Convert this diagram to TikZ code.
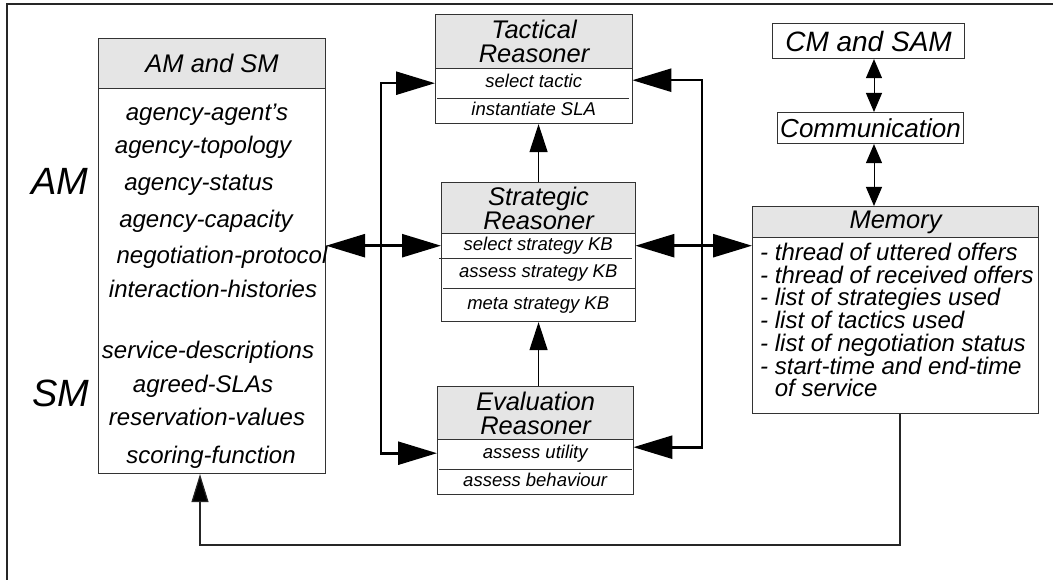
\documentclass[tikz,border=0pt]{standalone}
\usepackage{fontspec}
\setmainfont{Liberation Sans}
\usetikzlibrary{arrows.meta}

\newcommand\hdfont{\fontsize{25.5}{24}\selectfont\itshape}
\newcommand\rowfont{\fontsize{18.5}{20}\selectfont\itshape}
\newcommand\itemfont{\fontsize{24}{23}\selectfont\itshape}

\begin{document}
\begin{tikzpicture}[x=1pt,y=-1pt,
  box/.style={draw=black!80, line width=1.1pt, inner sep=0pt, anchor=north west},
  head/.style={box, fill=black!10, align=center, font=\hdfont},
  cell/.style={inner sep=0pt, anchor=north west, font=\rowfont,
    text height=13pt, text depth=4pt},
  item/.style={inner sep=0pt, font=\itemfont, text height=17pt, text depth=5pt},
  memitem/.style={inner sep=0pt, anchor=base west, font=\itemfont},
  divider/.style={draw=black!80, line width=1pt},
  bus/.style={line width=2.6pt, >={Triangle[length=39pt,width=23pt]}},
  thinarr/.style={line width=1.1pt, >={Triangle[length=28pt,width=18pt]}},
  commarr/.style={line width=1pt, >={Triangle[length=19pt,width=16pt]}},
  retarr/.style={draw=black!85, line width=1.2pt, >={Triangle[length=28pt,width=17pt,fill=black]}}]

\useasboundingbox (0,0) rectangle (1053,580);

% frame
\draw[line width=2pt, black!85] (6.5,580) -- (6.5,4.5) -- (1053,4.5);

% ---------- AM and SM ----------
\node[box, minimum width=227pt, minimum height=385pt] (amb) at (98,88) {};
\node[head, minimum width=227pt, minimum height=50pt] (amh) at (98,38) {AM and SM};
\foreach \t/\x/\y [count=\i] in {
  agency-agent's/207/115, agency-topology/203/148, agency-status/199/185,
  agency-capacity/206/222, negotiation-protocol/222/258,
  interaction-histories/213/292, service-descriptions/208/353,
  agreed-SLAs/203/386, reservation-values/207/419, scoring-function/211/457}
  \node[item] (am\i) at (\x,\y) {\t};
\node[item, font=\fontsize{38}{38}\selectfont\itshape, text height=27pt, text depth=1pt] (amlab) at (60,182) {AM};
\node[item, font=\fontsize{38}{38}\selectfont\itshape, text height=27pt, text depth=1pt] (smlab) at (61,393) {SM};

% ---------- Tactical Reasoner ----------
\node[box, minimum width=197pt, minimum height=55pt] (tacb) at (435,68) {};
\node[head, minimum width=197pt, minimum height=54pt] (tach) at (435,14) {Tactical\\Reasoner};
\node[cell, minimum width=197pt, minimum height=30pt] (tac1) at (435,68) {select tactic};
\node[cell, minimum width=197pt, minimum height=25pt] (tac2) at (435,98) {instantiate SLA};
\draw[divider] ([xshift=2pt]tac1.south west) -- ([xshift=-3pt]tac1.south east);

% ---------- Strategic Reasoner ----------
\node[box, minimum width=194pt, minimum height=88pt] (strb) at (441,233) {};
\node[head, minimum width=194pt, minimum height=51pt] (strh) at (441,182) {Strategic\\Reasoner};
\node[cell, minimum width=194pt, minimum height=25pt] (str1) at (441,233) {select strategy KB};
\node[cell, minimum width=194pt, minimum height=30pt] (str2) at (441,258) {assess strategy KB};
\node[cell, minimum width=194pt, minimum height=33pt] (str3) at (441,288) {meta strategy KB};
\draw[divider] ([xshift=-2pt]str1.south west) -- ([xshift=-3pt]str1.south east);
\draw[divider] ([xshift=2pt]str2.south west) -- (str2.south east);

% ---------- Evaluation Reasoner ----------
\node[box, minimum width=196pt, minimum height=55pt] (evb) at (437,439) {};
\node[head, minimum width=196pt, minimum height=53pt] (evh) at (437,386) {Evaluation\\Reasoner};
\node[cell, minimum width=196pt, minimum height=30pt] (ev1) at (437,439) {assess utility};
\node[cell, minimum width=196pt, minimum height=25pt] (ev2) at (437,469) {assess behaviour};
\draw[divider] ([xshift=2pt]ev1.south west) -- ([xshift=-1pt]ev1.south east);

% ---------- CM and SAM, Communication ----------
\node[box, minimum width=192pt, minimum height=35pt, font=\fontsize{28}{28}\selectfont\itshape] (cm) at (772,23) {CM and SAM};
\node[box, minimum width=186pt, minimum height=31pt, font=\fontsize{26}{26}\selectfont\itshape] (comm) at (777,112) {Communication};

% ---------- Memory ----------
\node[box, minimum width=286pt, minimum height=176pt] (memb) at (752,237) {};
\node[head, minimum width=286pt, minimum height=31pt] (memh) at (752,206) {Memory};
\foreach \t [count=\i] in {
  - thread of uttered offers, - thread of received offers,
  - list of strategies used, - list of tactics used,
  - list of negotiation status, - start-time and end-time,
  \phantom{- }of service}
  \node[memitem] (mem\i) at (760,{252+22.7*(\i-1)+8.5}) {\t};

% ---------- connectors ----------
\coordinate (lbus) at (381,0);
\coordinate (rbus) at (702,0);
\coordinate (cx) at (874,0);
\coordinate (retR) at (900,545);
\coordinate (retL) at (200,545);

% left bus: tactical and evaluation reasoners
\draw[bus,<->] (tac1.west) -- (tac1.west -| lbus) -- ([yshift=1pt]ev1.west -| lbus) -- ([yshift=1pt]ev1.west);
% right bus
\draw[bus,<->] ([yshift=3pt]tac1.east) -- ([yshift=3pt]tac1.east -| rbus) -- ([yshift=7pt]ev1.east -| rbus) -- ([yshift=7pt]ev1.east);
% models <-> strategic reasoner <-> memory
\draw[bus,<->] (str1.west -| amb.east) -- (str1.west);
\draw[bus,<->] (str1.east) -- (str1.east -| memb.west);

% reasoner chain
\draw[thinarr,->] (strh.north) -- (tacb.south -| strh.north);
\draw[thinarr,->] (evh.north -| strh.north) -- (strb.south);

% communication chain
\draw[commarr,<->] (cm.south -| cx) -- (comm.north -| cx);
\draw[commarr,<->] (comm.south -| cx) -- (memh.north -| cx);

% memory back to the models
\draw[retarr,->] (memb.south -| retR) -- (retR) -- (retL) -- (amb.south -| retL);

\end{tikzpicture}
\end{document}
